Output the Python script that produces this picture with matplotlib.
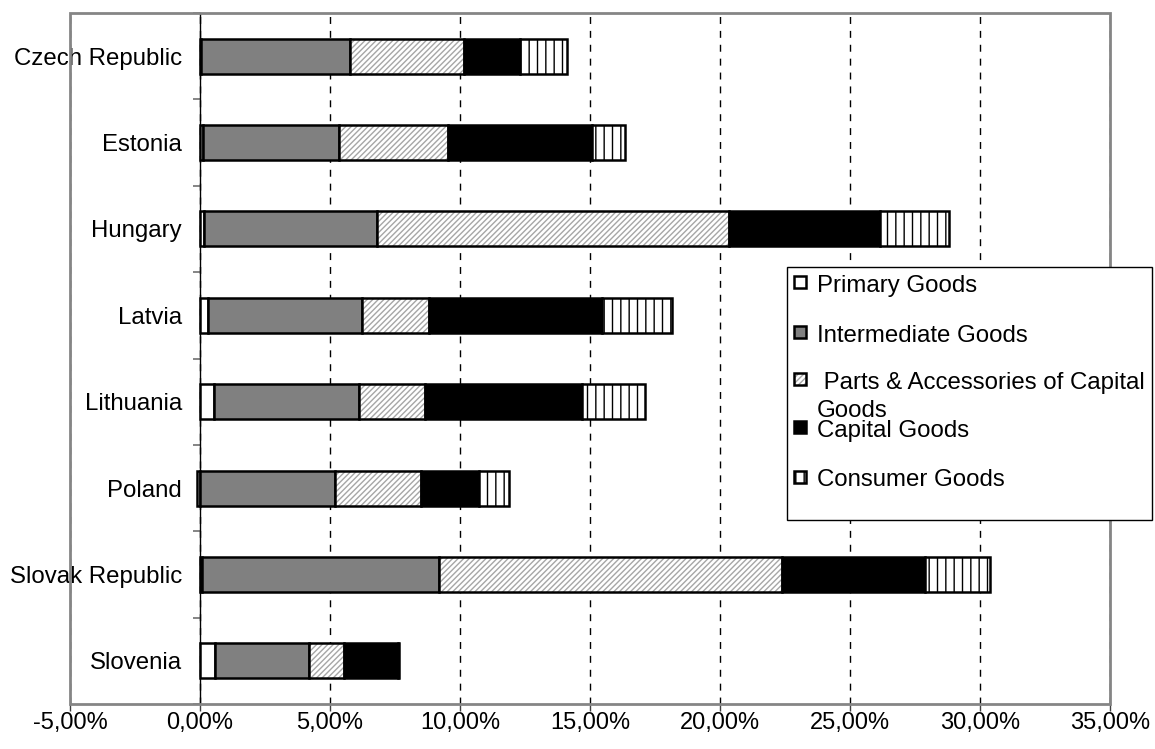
import numpy as np
import matplotlib
matplotlib.use("Agg")
import matplotlib.pyplot as plt
from matplotlib.patches import Rectangle
from matplotlib.ticker import FixedLocator, FuncFormatter

plt.rcParams['font.family'] = ['Liberation Sans', 'DejaVu Sans']
plt.rcParams['hatch.linewidth'] = 1.0

# Shares of exports by product group (percent)
countries = ["Czech Republic", "Estonia", "Hungary", "Latvia", "Lithuania",
             "Poland", "Slovak Republic", "Slovenia"]
primary = [0.05, 0.10, 0.15, 0.29, 0.53, -0.12, 0.08, 0.56]
intermediate = [5.71, 5.25, 6.65, 5.93, 5.60, 5.20, 9.10, 3.62]
parts = [4.40, 4.19, 13.54, 2.58, 2.53, 3.30, 13.20, 1.35]
capital = [2.13, 5.54, 5.83, 6.67, 6.04, 2.22, 5.49, 2.09]
consumer = [1.83, 1.26, 2.63, 2.69, 2.40, 1.16, 2.50, 0.05]

series_labels = ["Primary Goods", "Intermediate Goods",
                 " Parts & Accessories of Capital", "Capital Goods",
                 "Consumer Goods"]
xticks = [-5, 0, 5, 10, 15, 20, 25, 30, 35]

GRAY = "#808080"
HATCH_GRAY = "#a6a6a6"
styles = [
    dict(face="white", hatch=None, hcol=None),
    dict(face=GRAY, hatch=None, hcol=None),
    dict(face="white", hatch="//////", hcol=HATCH_GRAY),
    dict(face="black", hatch=None, hcol=None),
    dict(face="white", hatch="||", hcol="black"),
]

W, H = 1155, 749
fig = plt.figure(figsize=(W / 100, H / 100), dpi=100)
ax = fig.add_axes([70 / W, 1 - 704 / H, 1040 / W, 691 / H])

y = np.arange(len(countries))
bar_h = 0.405
pos_left = np.zeros(len(countries))
neg_left = np.zeros(len(countries))

for vals, st in zip([primary, intermediate, parts, capital, consumer], styles):
    vals = np.asarray(vals, dtype=float)
    left = np.where(vals >= 0, pos_left, neg_left)
    if st["hatch"]:
        ax.barh(y, vals, left=left, height=bar_h, color=st["face"],
                edgecolor=st["hcol"], hatch=st["hatch"], linewidth=0, zorder=3)
        ax.barh(y, vals, left=left, height=bar_h, facecolor="none",
                edgecolor="black", linewidth=1.8, zorder=4)
    else:
        ax.barh(y, vals, left=left, height=bar_h, color=st["face"],
                edgecolor="black", linewidth=1.8, zorder=3)
    pos_left += np.where(vals >= 0, vals, 0)
    neg_left += np.where(vals < 0, vals, 0)

ax.set_xlim(xticks[0], xticks[-1])
ax.set_ylim(len(countries) - 0.5, -0.5)

# x axis
ax.set_xticks(xticks)
ax.xaxis.set_major_formatter(FuncFormatter(lambda v, p: f"{v:.2f}%".replace(".", ",")))
ax.tick_params(axis="x", direction="out", length=5, width=1, color="#404040",
               labelsize=17, pad=1)
ax.grid(axis="x", color="black", linestyle=(0, (5, 5)), linewidth=1, zorder=1)
ax.set_axisbelow(True)

# y axis drawn at zero
for s in ["top", "right", "bottom"]:
    ax.spines[s].set_visible(False)
ax.spines["left"].set_position(("data", 0))
ax.spines["left"].set_color("black")
ax.spines["left"].set_linewidth(1)
ax.spines["left"].set_zorder(2)
ax.set_yticks(y)
ax.set_yticklabels(countries)
ax.yaxis.set_minor_locator(FixedLocator(np.arange(len(countries) + 1) - 0.5))
ax.tick_params(axis="y", which="major", length=0, labelsize=17.3, pad=13)
ax.tick_params(axis="y", which="minor", direction="out", length=5, width=1.2,
               color="#707070")

# plot frame
ax.add_patch(Rectangle((0, 0), 1, 1, transform=ax.transAxes, fill=False,
                       edgecolor="#858585", linewidth=2, clip_on=False, zorder=5))


def fx(px):
    return px / W


def fy(py):
    return 1 - py / H


# legend
fig.add_artist(Rectangle((fx(787), fy(520)), fx(1152) - fx(787), (520 - 267) / H,
                         transform=fig.transFigure, facecolor="white",
                         edgecolor="black", linewidth=1, zorder=10))
baselines = [292, 341.5, 389, 437, 486.5]
for lab, st, base in zip(series_labels, styles, baselines):
    sq = 12
    kw = dict(transform=fig.transFigure, zorder=11)
    rect = (fx(794), fy(base - 3.5)), sq / W, sq / H
    if st["hatch"]:
        fig.add_artist(Rectangle(*rect, facecolor=st["face"], edgecolor=st["hcol"],
                                 hatch=st["hatch"], linewidth=0, **kw))
        fig.add_artist(Rectangle(*rect, facecolor="none", edgecolor="black",
                                 linewidth=1.8, **kw))
    else:
        fig.add_artist(Rectangle(*rect, facecolor=st["face"], edgecolor="black",
                                 linewidth=1.8, **kw))
    fig.text(fx(817), fy(base), lab, fontsize=17.3, ha="left", va="baseline",
             zorder=12)
fig.text(fx(817), fy(417), "Goods", fontsize=17.3, ha="left", va="baseline", zorder=12)

fig.savefig("out.png", dpi=100)
